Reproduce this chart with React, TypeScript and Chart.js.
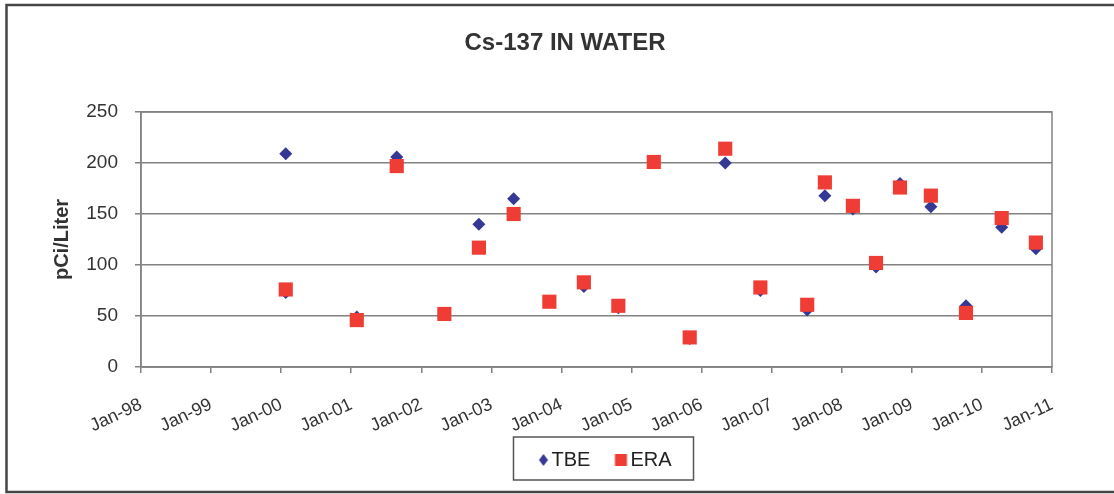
import React, { useEffect, useRef } from "react";
import { Chart, registerables } from "chart.js";

Chart.register(...registerables);

// ---- Data ----
const seriesNames = ["TBE", "ERA"];
const tbeDates = [
  "2000-01-25", "2000-01-25", "2001-01-30", "2001-08-26", "2002-05-01",
  "2002-10-28", "2003-04-27", "2003-10-30", "2004-04-27", "2004-10-24",
  "2005-04-27", "2005-10-31", "2006-05-04", "2006-11-03", "2007-07-05",
  "2007-10-05", "2008-02-28", "2008-06-28", "2008-10-31", "2009-04-10",
  "2009-10-10", "2010-04-14", "2010-10-09",
];
const tbeValues = [
  209, 73, 49, 206, 52, 140, 165, 64, 79, 58, 201, 28, 200, 75, 56,
  168, 155, 98, 180, 157, 60, 137, 116,
];
const eraDates = [
  "2000-01-25", "2001-01-30", "2001-08-26", "2002-05-01", "2002-10-28",
  "2003-04-27", "2003-10-30", "2004-04-27", "2004-10-24", "2005-04-27",
  "2005-10-31", "2006-05-04", "2006-11-03", "2007-07-05", "2007-10-05",
  "2008-02-28", "2008-06-28", "2008-10-31", "2009-04-10", "2009-10-10",
  "2010-04-14", "2010-10-09",
];
const eraValues = [
  76, 46, 197, 52, 117, 150, 64, 83, 60, 201, 29, 214, 78, 61, 181,
  158, 102, 176, 168, 53, 146, 122,
];
const xTickYears = [1998, 1999, 2000, 2001, 2002, 2003, 2004, 2005, 2006, 2007, 2008, 2009, 2010, 2011];
const xTickLabels = [
  "Jan-98", "Jan-99", "Jan-00", "Jan-01", "Jan-02", "Jan-03", "Jan-04",
  "Jan-05", "Jan-06", "Jan-07", "Jan-08", "Jan-09", "Jan-10", "Jan-11",
];
const yTicks = [0, 50, 100, 150, 200, 250];

const TITLE = "Cs-137 IN WATER";
const Y_TITLE = "pCi/Liter";

const FONT = '"Liberation Sans", Arial, Helvetica, sans-serif';
const TEXT = "#333333";
const GRID = "#828282";
const TBE_COLOR = "#353894";
const ERA_COLOR = "#ef3d35";

function toDecimalYear(s: string): number {
  const [y, m, d] = s.split("-").map(Number);
  const start = Date.UTC(y, 0, 1);
  const end = Date.UTC(y + 1, 0, 1);
  return y + (Date.UTC(y, m - 1, d) - start) / (end - start);
}

function makeIcon(kind: "diamond" | "square", color: string): HTMLCanvasElement {
  const c = document.createElement("canvas");
  c.width = 36;
  c.height = 14;
  const g = c.getContext("2d")!;
  g.fillStyle = color;
  if (kind === "diamond") {
    const cx = 30, cy = 7;
    g.beginPath();
    g.moveTo(cx, cy - 6);
    g.lineTo(cx + 4.5, cy);
    g.lineTo(cx, cy + 6);
    g.lineTo(cx - 4.5, cy);
    g.closePath();
    g.fill();
  } else {
    g.fillRect(22.5, 1, 12, 12);
  }
  return c;
}

const decorPlugin = {
  id: "decor",
  beforeDraw(chart: any) {
    const ctx = chart.ctx;
    ctx.save();
    ctx.fillStyle = "#ffffff";
    ctx.fillRect(0, 0, chart.width, chart.height);
    ctx.restore();
  },
  beforeDatasetsDraw(chart: any) {
    const ctx = chart.ctx;
    const { left, top, right, bottom } = chart.chartArea;
    ctx.save();
    ctx.strokeStyle = GRID;
    ctx.lineWidth = 1.5;
    ctx.strokeRect(left, top, right - left, bottom - top);
    ctx.restore();
  },
  afterDraw(chart: any) {
    const ctx = chart.ctx;
    ctx.save();
    const hb = chart.legend && chart.legend.legendHitBoxes;
    if (hb && hb.length) {
      const l = Math.min(...hb.map((h: any) => h.left));
      const r = Math.max(...hb.map((h: any) => h.left + h.width));
      const cy = hb[0].top + hb[0].height / 2;
      ctx.strokeStyle = "#555555";
      ctx.lineWidth = 1.5;
      ctx.strokeRect(l - 8, cy - 23, r - l + 30, 43);
    }
    ctx.strokeStyle = "#454545";
    ctx.lineWidth = 2.5;
    ctx.strokeRect(6.5, 5, 1200, 487);
    ctx.restore();
  },
};

export default function App() {
  const ref = useRef<HTMLCanvasElement | null>(null);

  useEffect(() => {
    if (!ref.current) return;
    const tbeIcon = makeIcon("diamond", TBE_COLOR);
    const eraIcon = makeIcon("square", ERA_COLOR);

    const tbeData = tbeDates.map((d, i) => ({ x: toDecimalYear(d), y: tbeValues[i] }));
    const eraData = eraDates.map((d, i) => ({ x: toDecimalYear(d), y: eraValues[i] }));

    const chart = new Chart(ref.current, {
      type: "scatter",
      data: {
        datasets: [
          {
            label: seriesNames[0],
            data: tbeData,
            pointStyle: "rectRot",
            pointRadius: 6.5,
            backgroundColor: TBE_COLOR,
            borderColor: TBE_COLOR,
            borderWidth: 0,
            order: 2,
          },
          {
            label: seriesNames[1],
            data: eraData,
            pointStyle: "rect",
            pointRadius: 10,
            backgroundColor: ERA_COLOR,
            borderColor: ERA_COLOR,
            borderWidth: 0,
            order: 1,
          },
        ],
      },
      options: {
        animation: false,
        responsive: false,
        events: [],
        layout: { padding: { left: 78, right: 62, top: 0, bottom: 14 } },
        plugins: {
          title: {
            display: true,
            text: TITLE,
            color: TEXT,
            font: { family: FONT, size: 24, weight: "bold" },
            padding: { top: 28.6, bottom: 54.6 },
          },
          legend: {
            position: "bottom",
            fullSize: false,
            labels: {
              usePointStyle: true,
              boxWidth: 20,
              boxHeight: 12,
              padding: 10,
              color: "#222222",
              font: { family: FONT, size: 20 },
              generateLabels: () => [
                {
                  text: seriesNames[0],
                  pointStyle: tbeIcon,
                  fillStyle: TBE_COLOR,
                  strokeStyle: TBE_COLOR,
                  lineWidth: 0,
                  hidden: false,
                  datasetIndex: 0,
                  fontColor: "#222222",
                },
                {
                  text: seriesNames[1],
                  pointStyle: eraIcon,
                  fillStyle: ERA_COLOR,
                  strokeStyle: ERA_COLOR,
                  lineWidth: 0,
                  hidden: false,
                  datasetIndex: 1,
                  fontColor: "#222222",
                },
              ],
            },
          },
          tooltip: { enabled: false },
        },
        scales: {
          x: {
            type: "linear",
            min: xTickYears[0],
            max: xTickYears[xTickYears.length - 1],
            afterBuildTicks: (s: any) => {
              s.ticks = xTickYears.map((v) => ({ value: v }));
            },
            afterFit: (s: any) => {
              s.height = 73;
            },
            ticks: {
              autoSkip: false,
              minRotation: 25,
              maxRotation: 25,
              padding: 21,
              color: TEXT,
              font: { family: FONT, size: 18 },
              callback: (v: any) => xTickLabels[xTickYears.indexOf(Math.round(Number(v)))] ?? "",
            },
            grid: {
              display: true,
              drawOnChartArea: false,
              drawTicks: true,
              tickLength: 6,
              color: GRID,
              lineWidth: 1.5,
            },
            border: { display: true, color: GRID, width: 1.5 },
          },
          y: {
            min: yTicks[0],
            max: yTicks[yTicks.length - 1],
            afterBuildTicks: (s: any) => {
              s.ticks = yTicks.map((v) => ({ value: v }));
            },
            afterFit: (s: any) => {
              s.width = 63;
            },
            ticks: {
              padding: 17,
              color: TEXT,
              font: { family: FONT, size: 19 },
            },
            grid: {
              color: GRID,
              lineWidth: 1.5,
              tickLength: 6,
              drawTicks: true,
            },
            border: { display: true, color: GRID, width: 1.5 },
            title: {
              display: true,
              text: Y_TITLE,
              color: TEXT,
              font: { family: FONT, size: 20, weight: "bold" },
              padding: { top: -28, bottom: 0 },
            },
          },
        },
      },
      plugins: [decorPlugin],
    } as any);

    return () => chart.destroy();
  }, []);

  return (
    <canvas
      ref={ref}
      width={1114}
      height={494}
      style={{ position: "absolute", left: 0, top: 0, width: 1114, height: 494, display: "block" }}
    />
  );
}
